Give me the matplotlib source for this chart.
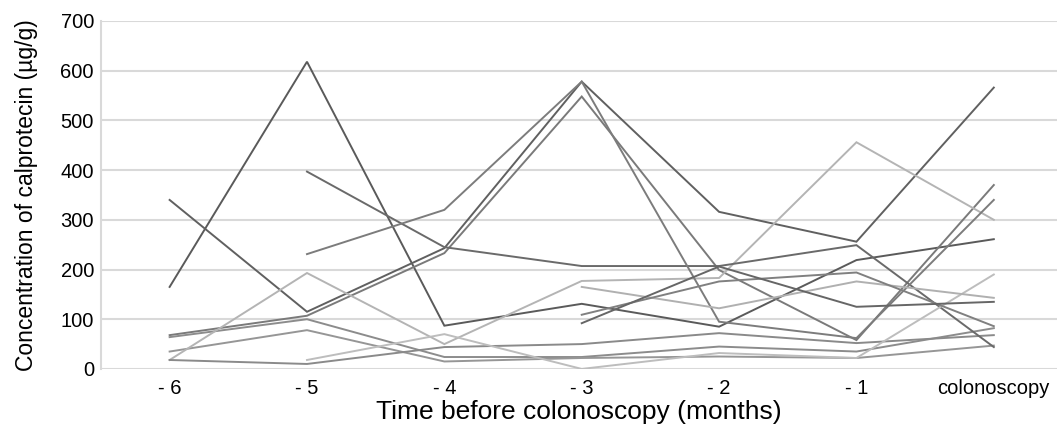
import numpy as np
from matplotlib import pyplot as plt

months = ["- 6", "- 5", "- 4", "- 3", "- 2", "- 1", "colonoscopy"]
nan = np.nan

# calprotectin per patient, one value per month before colonoscopy
p1 = [165, 618, 87, 131, 85, 219, 261]
p2 = [340, 115, 243, 578, 316, 256, 566]
p3 = [68, 107, 233, 548, 199, 58, 370]
p4 = [64, 100, 24, 24, 45, 35, 82]
p5 = [35, 78, 15, 22, 25, 22, 47]
p6 = [18, 193, 50, 177, 183, 456, 300]
p7 = [18, 10, 44, 50, 72, 52, 68]
p8 = [nan, 397, 245, 207, 207, 249, 44]
p9 = [nan, 231, 320, 578, 95, 62, 340]
p10 = [nan, 18, 70, 0, 32, 22, 190]
p11 = [nan, nan, nan, 165, 122, 176, 143]
p12 = [nan, nan, nan, 109, 176, 194, 86]
p13 = [nan, nan, nan, 92, 206, 125, 135]

patients = [p1, p2, p3, p4, p5, p6, p7, p8, p9, p10, p11, p12, p13]
greys = ["#5a5a5a", "#606060", "#7a7a7a", "#8c8c8c", "#969696", "#b4b4b4", "#8a8a8a",
         "#6a6a6a", "#7c7c7c", "#bdbdbd", "#b0b0b0", "#808080", "#666666"]

plt.rcParams['font.family'] = ['Liberation Sans', 'DejaVu Sans']

fig = plt.figure(figsize=(10.57, 4.28), dpi=100)
ax = fig.add_axes([0.0955, 0.138, 0.9045, 0.813])

x = np.arange(len(months))
for vals, c in zip(patients, greys):
    ax.plot(x, vals, color=c, lw=1.4, solid_joinstyle='miter')

ax.set_xlim(-0.5, 6.46)
ax.set_ylim(0, 700)
ax.set_yticks(np.arange(0, 701, 100))
ax.set_xticks(x)
ax.set_xticklabels(months, fontsize=14.5)
ax.tick_params(axis='y', labelsize=14.5, length=0, pad=5)
ax.tick_params(axis='x', length=0, pad=7)

ax.grid(axis='y', color='#d9d9d9', lw=1.5)
ax.set_axisbelow(True)
for s in ['top', 'right', 'bottom']:
    ax.spines[s].set_visible(False)
ax.spines['left'].set_color('#d9d9d9')
ax.spines['left'].set_linewidth(1.5)

ax.set_xlabel("Time before colonoscopy (months)", fontsize=19, labelpad=2)
ax.set_ylabel("Concentration of calprotecin (µg/g)", fontsize=16.5, labelpad=16)

fig.savefig("out.png", dpi=100)
